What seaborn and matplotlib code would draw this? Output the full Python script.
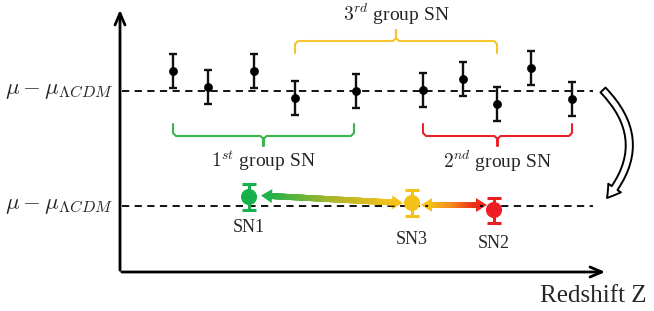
import numpy as np
import pandas as pd
import seaborn as sns
import matplotlib.pyplot as plt
from matplotlib.collections import LineCollection
from matplotlib.colors import LinearSegmentedColormap
from matplotlib.patches import Polygon, FancyArrowPatch

sns.set_theme(style="white")
plt.rcParams['font.family'] = ['Liberation Serif', 'DejaVu Serif']
plt.rcParams['mathtext.fontset'] = 'cm'

# schematic, positions in image units (x = redshift, y = residual offset)
upper_base = 90.5
lower_base = 205.5
z_upper = [173, 208, 254, 295, 356, 423, 463, 497, 531, 572]
res_upper = [20, 4, 20, -7, 0, 1, 12, -13, 23, -8]
err_upper = [17, 17, 17, 17, 17, 17, 17, 17, 17, 17]

sn_names = ["SN1", "SN3", "SN2"]
z_sn = [249, 412, 494]
res_sn = [8.5, 2.5, -4.5]
err_sn = [13, 13, 12.5]
sn_colors = ["#17b14c", "#f6c117", "#ee1d24"]

df_up = pd.DataFrame({"z": z_upper, "y": [upper_base - r for r in res_upper], "err": err_upper})
df_sn = pd.DataFrame({"z": z_sn, "y": [lower_base - r for r in res_sn], "err": err_sn, "name": sn_names})

fig = plt.figure(figsize=(6.54, 3.11), dpi=100)
ax = fig.add_axes([0, 0, 1, 1])

# axes arrows
ax.annotate("", xy=(120, 7), xytext=(120, 273),
            arrowprops=dict(arrowstyle="->,head_length=0.7,head_width=0.3", lw=2, color="black"))
ax.annotate("", xy=(608, 272), xytext=(119, 272),
            arrowprops=dict(arrowstyle="->,head_length=0.7,head_width=0.3", lw=2, color="black"))

# dashed reference lines
for yb in [upper_base, lower_base]:
    ax.plot([122, 593], [yb, yb], ls=(0, (4, 3)), color="black", lw=1.3)

# upper points
ax.errorbar(df_up.z, df_up.y, yerr=df_up.err, fmt="none", ecolor="#111111",
            elinewidth=1.7, capsize=3, capthick=1.7)
sns.scatterplot(data=df_up, x="z", y="y", color="black", s=34, edgecolor=None, ax=ax, zorder=3)

# lower SN points
for i, row in df_sn.iterrows():
    ax.errorbar([row.z], [row.y], yerr=[row.err], fmt="none", ecolor=sn_colors[i],
                elinewidth=2.2, capsize=5, capthick=2.2)
sns.scatterplot(data=df_sn, x="z", y="y", hue="name", palette=sn_colors, s=115,
                edgecolor=None, ax=ax, zorder=3, legend=False)
label_y = [228, 240, 243]
for i, row in df_sn.iterrows():
    ax.text(row.z, label_y[i], row["name"], ha="center", va="center", fontsize=13)


def grad_arrow(x0, y0, x1, y1, c0, c1, cmid=None):
    cols = [c0, cmid, c1] if cmid else [c0, c1]
    cmap = LinearSegmentedColormap.from_list("g", cols)
    d = np.array([x1 - x0, y1 - y0], dtype=float)
    L = np.hypot(*d)
    u = d / L
    nrm = np.array([-u[1], u[0]])
    hl, hw = 11, 7
    a = np.array([x0, y0]) + u * (hl - 1)
    b = np.array([x1, y1]) - u * (hl - 1)
    t = np.linspace(0, 1, 80)
    pts = a[None, :] + (b - a)[None, :] * t[:, None]
    segs = np.stack([pts[:-1], pts[1:]], axis=1)
    lc = LineCollection(segs, colors=cmap(t[:-1]), linewidths=4.2, capstyle="projecting")
    ax.add_collection(lc)
    p0 = np.array([x0, y0])
    p1 = np.array([x1, y1])
    a = p0 + u * hl
    b = p1 - u * hl
    ax.add_patch(Polygon([p0, a + nrm * hw, a - nrm * hw], closed=True, color=cmap(0.0), lw=0))
    ax.add_patch(Polygon([p1, b + nrm * hw, b - nrm * hw], closed=True, color=cmap(1.0), lw=0))


grad_arrow(261, 195.5, 403, 203, "#1fb14a", "#f7c21a", "#a8b52a")
grad_arrow(421, 205, 487, 205, "#f7c21a", "#ee2a1b", "#f58a1c")


def brace(x0, x1, y_end, y_line, y_tip, color):
    xc = (x0 + x1) / 2
    s = np.sign(y_line - y_end)
    r = 3
    xs = [x0, x0, x0 + r, xc - r, xc, xc, xc, xc + r, x1 - r, x1, x1]
    ys = [y_end, y_line - s * r, y_line, y_line, y_line + s * r, y_tip,
          y_line + s * r, y_line, y_line, y_line - s * r, y_end]
    ax.plot(xs, ys, color=color, lw=1.5, solid_joinstyle="round")
    return xc


xc1 = brace(173, 354, 124, 136, 146, "#3ab54a")
xc3 = brace(295, 497, 53, 41, 30, "#f4c431")
xc2 = brace(423, 572, 124, 136, 146, "#e8242a")
ax.text(xc1, 161, r"$1^{st}$ group SN", ha="center", va="center", fontsize=14)
ax.text(xc3, 14, r"$3^{rd}$ group SN", ha="center", va="center", fontsize=14)
ax.text(xc2, 161, r"$2^{nd}$ group SN", ha="center", va="center", fontsize=14)

# y labels
for yb in [upper_base, lower_base]:
    ax.text(113, yb, r"$\mu - \mu_{\Lambda CDM}$", ha="right", va="center", fontsize=16.5)

# curved hollow arrow
arr = FancyArrowPatch(posA=(603, 90), posB=(607, 198),
                      arrowstyle="simple,head_length=9,head_width=11,tail_width=5",
                      connectionstyle="arc3,rad=-0.45", fc="white", ec="black", lw=1.4,
                      shrinkA=0, shrinkB=0)
ax.add_patch(arr)

ax.text(646, 296, "Redshift Z", ha="right", va="center", fontsize=18)

ax.set_xlim(0, 654)
ax.set_ylim(311, 0)
ax.axis("off")
fig.savefig("out.png", dpi=100)
